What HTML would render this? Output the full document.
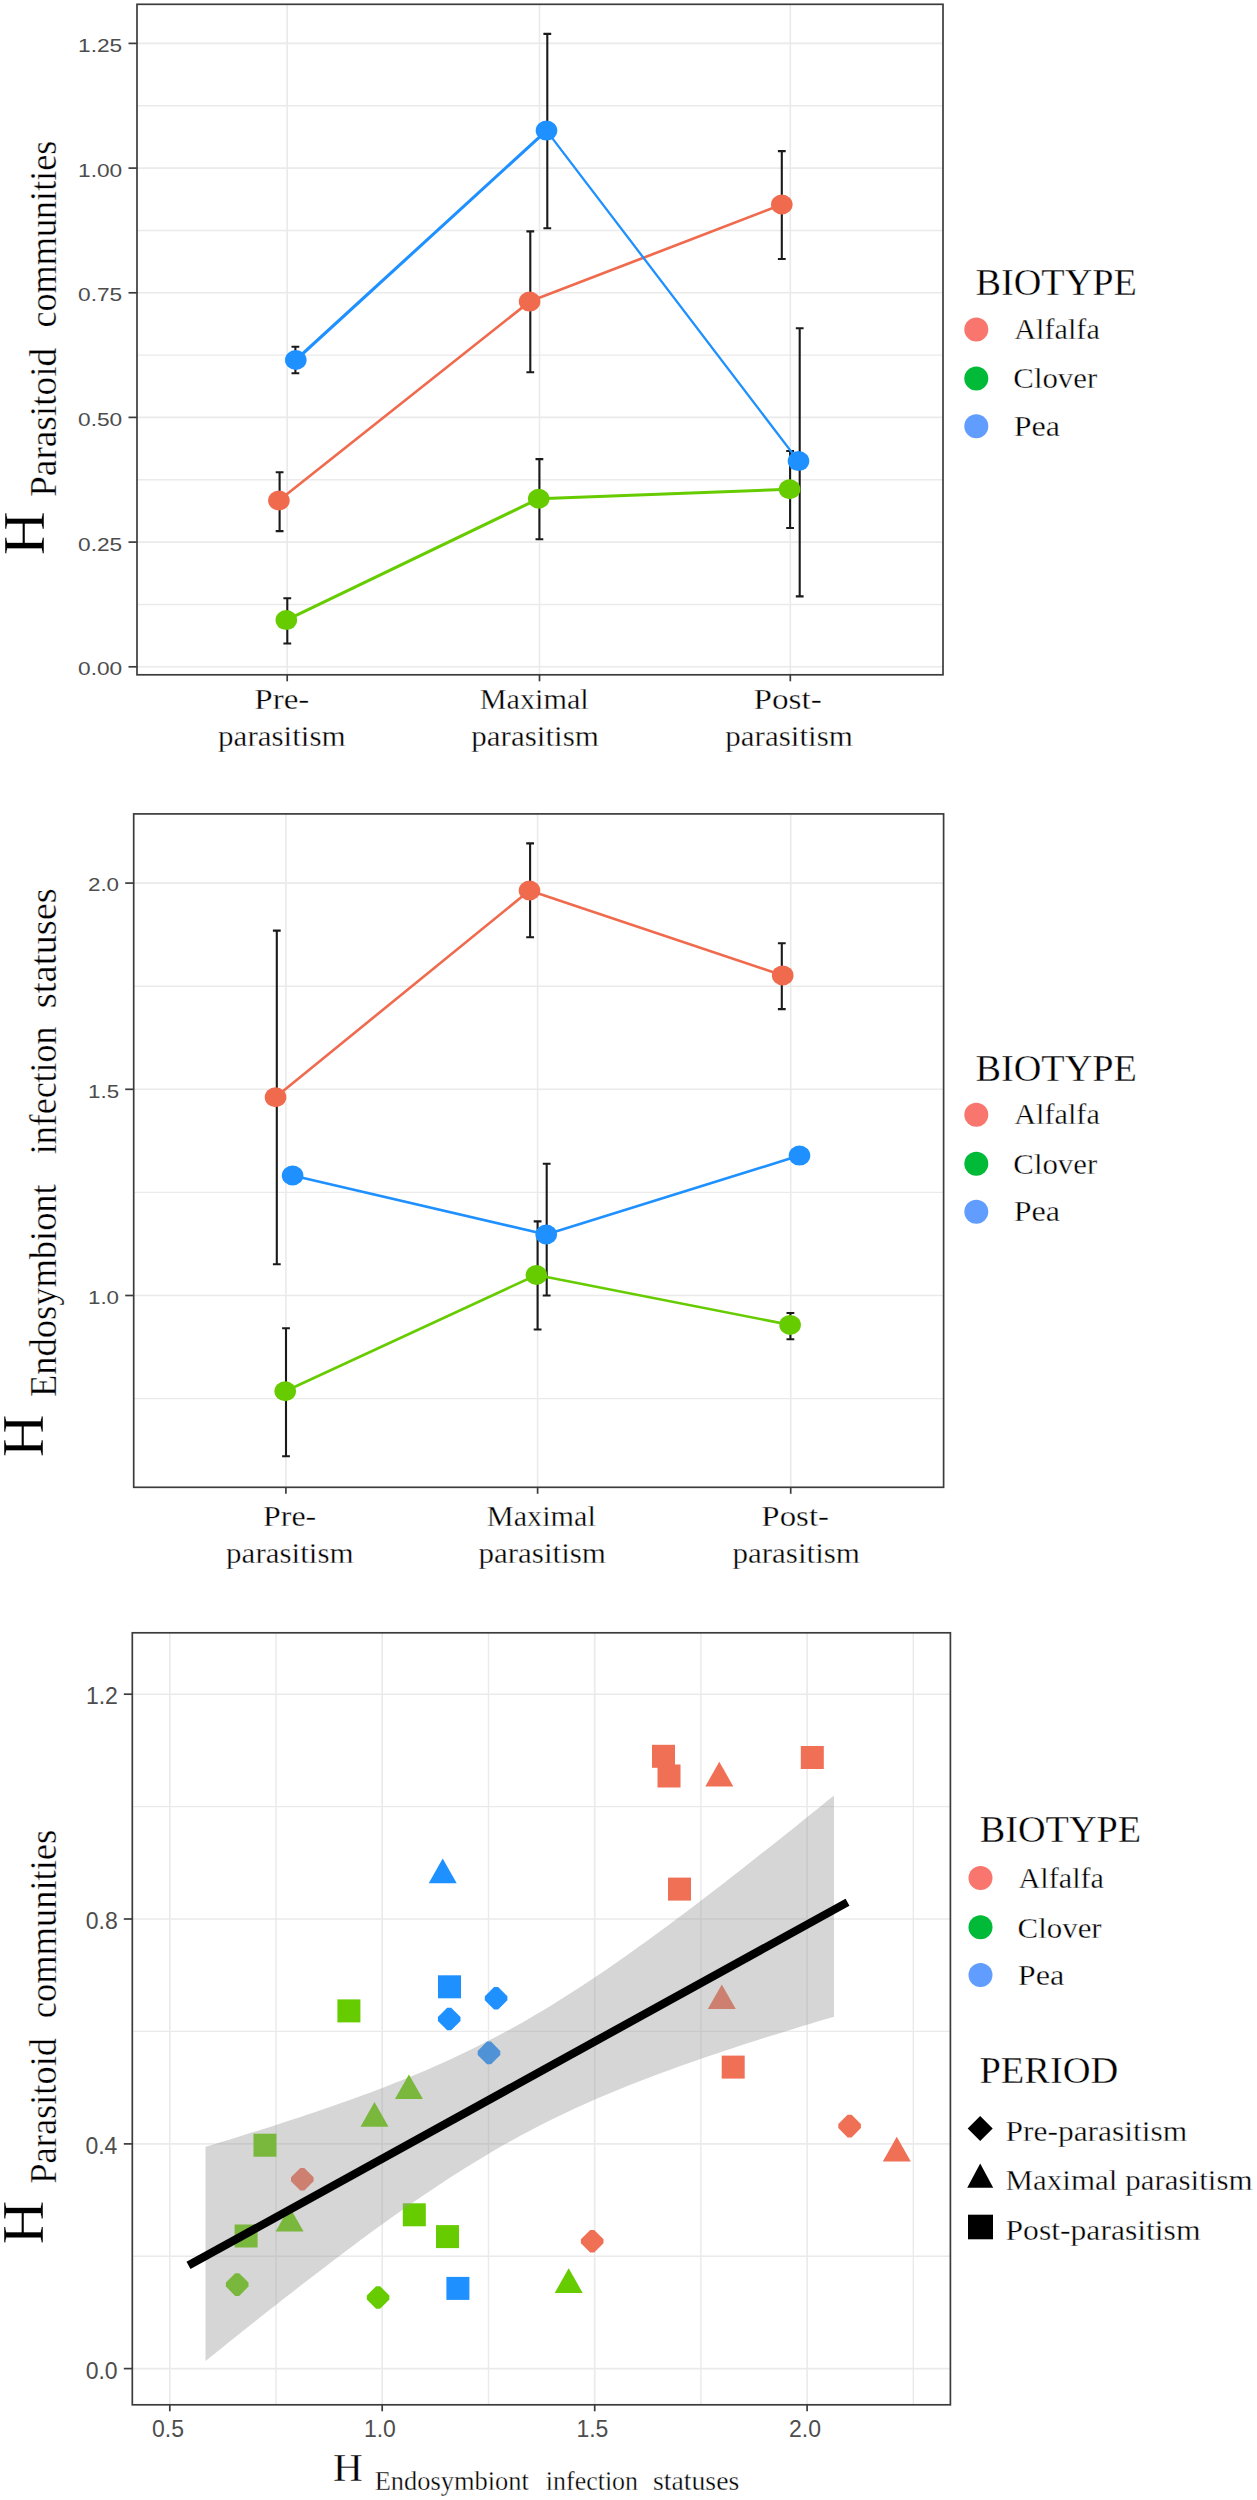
<!DOCTYPE html>
<html><head><meta charset="utf-8"><style>html,body{margin:0;padding:0;background:#fff;}svg{display:block;}text.s{stroke:#fff;stroke-width:0.35px;}</style></head>
<body>
<svg width="1257" height="2500" viewBox="0 0 1257 2500">
<rect width="1257" height="2500" fill="#fff"/>
<line x1="137" y1="105.75" x2="943" y2="105.75" stroke="#EAEAEA" stroke-width="1.4"/>
<line x1="137" y1="230.45" x2="943" y2="230.45" stroke="#EAEAEA" stroke-width="1.4"/>
<line x1="137" y1="355.10" x2="943" y2="355.10" stroke="#EAEAEA" stroke-width="1.4"/>
<line x1="137" y1="479.75" x2="943" y2="479.75" stroke="#EAEAEA" stroke-width="1.4"/>
<line x1="137" y1="604.45" x2="943" y2="604.45" stroke="#EAEAEA" stroke-width="1.4"/>
<line x1="137" y1="43.40" x2="943" y2="43.40" stroke="#EAEAEA" stroke-width="1.6"/>
<line x1="137" y1="168.10" x2="943" y2="168.10" stroke="#EAEAEA" stroke-width="1.6"/>
<line x1="137" y1="292.80" x2="943" y2="292.80" stroke="#EAEAEA" stroke-width="1.6"/>
<line x1="137" y1="417.40" x2="943" y2="417.40" stroke="#EAEAEA" stroke-width="1.6"/>
<line x1="137" y1="542.10" x2="943" y2="542.10" stroke="#EAEAEA" stroke-width="1.6"/>
<line x1="137" y1="666.80" x2="943" y2="666.80" stroke="#EAEAEA" stroke-width="1.6"/>
<line x1="287.20" y1="4.3" x2="287.20" y2="674.8" stroke="#EAEAEA" stroke-width="1.6"/>
<line x1="539.50" y1="4.3" x2="539.50" y2="674.8" stroke="#EAEAEA" stroke-width="1.6"/>
<line x1="790.30" y1="4.3" x2="790.30" y2="674.8" stroke="#EAEAEA" stroke-width="1.6"/>
<path d="M275.70,472.30H283.50M279.60,472.30V531.10M275.70,531.10H283.50" stroke="#1a1a1a" stroke-width="2.1" fill="none"/>
<path d="M526.40,231.40H534.20M530.30,231.40V372.20M526.40,372.20H534.20" stroke="#1a1a1a" stroke-width="2.1" fill="none"/>
<path d="M777.90,151.10H785.70M781.80,151.10V259.00M777.90,259.00H785.70" stroke="#1a1a1a" stroke-width="2.1" fill="none"/>
<path d="M283.40,598.20H291.20M287.30,598.20V643.50M283.40,643.50H291.20" stroke="#1a1a1a" stroke-width="2.1" fill="none"/>
<path d="M535.50,459.10H543.30M539.40,459.10V539.30M535.50,539.30H543.30" stroke="#1a1a1a" stroke-width="2.1" fill="none"/>
<path d="M786.20,451.00H794.00M790.10,451.00V528.00M786.20,528.00H794.00" stroke="#1a1a1a" stroke-width="2.1" fill="none"/>
<path d="M291.50,346.80H299.30M295.40,346.80V373.30M291.50,373.30H299.30" stroke="#1a1a1a" stroke-width="2.1" fill="none"/>
<path d="M543.40,33.90H551.20M547.30,33.90V228.30M543.40,228.30H551.20" stroke="#1a1a1a" stroke-width="2.1" fill="none"/>
<path d="M795.80,328.20H803.60M799.70,328.20V596.40M795.80,596.40H803.60" stroke="#1a1a1a" stroke-width="2.1" fill="none"/>
<line x1="278.90" y1="500.50" x2="529.60" y2="301.60" stroke="#F06A4E" stroke-width="2.7" stroke-linecap="round"/>
<line x1="529.60" y1="301.60" x2="781.80" y2="204.50" stroke="#F06A4E" stroke-width="2.7" stroke-linecap="round"/>
<line x1="286.30" y1="620.10" x2="538.70" y2="498.70" stroke="#66CC00" stroke-width="3.0" stroke-linecap="round"/>
<line x1="538.70" y1="498.70" x2="789.60" y2="489.20" stroke="#66CC00" stroke-width="3.0" stroke-linecap="round"/>
<line x1="295.80" y1="360.00" x2="546.50" y2="130.60" stroke="#1E90FF" stroke-width="3.1" stroke-linecap="round"/>
<line x1="546.50" y1="130.60" x2="798.50" y2="461.10" stroke="#1E90FF" stroke-width="2.3" stroke-linecap="round"/>
<ellipse cx="278.90" cy="500.50" rx="10.8" ry="10.0" fill="#F06A4E"/>
<ellipse cx="529.60" cy="301.60" rx="10.8" ry="10.0" fill="#F06A4E"/>
<ellipse cx="781.80" cy="204.50" rx="10.8" ry="10.0" fill="#F06A4E"/>
<ellipse cx="286.30" cy="620.10" rx="10.8" ry="10.0" fill="#66CC00"/>
<ellipse cx="538.70" cy="498.70" rx="10.8" ry="10.0" fill="#66CC00"/>
<ellipse cx="789.60" cy="489.20" rx="10.8" ry="10.0" fill="#66CC00"/>
<ellipse cx="295.80" cy="360.00" rx="10.8" ry="10.0" fill="#1E90FF"/>
<ellipse cx="546.50" cy="130.60" rx="10.8" ry="10.0" fill="#1E90FF"/>
<ellipse cx="798.50" cy="461.10" rx="10.8" ry="10.0" fill="#1E90FF"/>
<rect x="137" y="4.3" width="806" height="670.5" fill="none" stroke="#3C3C3C" stroke-width="1.7"/>
<line x1="128.5" y1="43.40" x2="137" y2="43.40" stroke="#3C3C3C" stroke-width="1.7"/>
<line x1="128.5" y1="168.10" x2="137" y2="168.10" stroke="#3C3C3C" stroke-width="1.7"/>
<line x1="128.5" y1="292.80" x2="137" y2="292.80" stroke="#3C3C3C" stroke-width="1.7"/>
<line x1="128.5" y1="417.40" x2="137" y2="417.40" stroke="#3C3C3C" stroke-width="1.7"/>
<line x1="128.5" y1="542.10" x2="137" y2="542.10" stroke="#3C3C3C" stroke-width="1.7"/>
<line x1="128.5" y1="666.80" x2="137" y2="666.80" stroke="#3C3C3C" stroke-width="1.7"/>
<line x1="287.20" y1="674.8" x2="287.20" y2="681.3" stroke="#3C3C3C" stroke-width="1.7"/>
<line x1="539.50" y1="674.8" x2="539.50" y2="681.3" stroke="#3C3C3C" stroke-width="1.7"/>
<line x1="790.30" y1="674.8" x2="790.30" y2="681.3" stroke="#3C3C3C" stroke-width="1.7"/>
<text transform="translate(78.08,51.90) scale(1.1821,1)" font-family='"Liberation Sans", sans-serif' font-size="19.20" fill="#4D4D4D">1.25</text>
<text transform="translate(78.01,176.60) scale(1.1821,1)" font-family='"Liberation Sans", sans-serif' font-size="19.20" fill="#4D4D4D">1.00</text>
<text transform="translate(78.08,301.30) scale(1.1821,1)" font-family='"Liberation Sans", sans-serif' font-size="19.20" fill="#4D4D4D">0.75</text>
<text transform="translate(78.01,425.90) scale(1.1821,1)" font-family='"Liberation Sans", sans-serif' font-size="19.20" fill="#4D4D4D">0.50</text>
<text transform="translate(78.08,550.60) scale(1.1821,1)" font-family='"Liberation Sans", sans-serif' font-size="19.20" fill="#4D4D4D">0.25</text>
<text transform="translate(78.01,675.30) scale(1.1821,1)" font-family='"Liberation Sans", sans-serif' font-size="19.20" fill="#4D4D4D">0.00</text>
<text class="s" transform="translate(254.25,709.40) scale(1.1034,1)" font-family='"Liberation Serif", serif' font-size="30.00" fill="#000">Pre-</text>
<text class="s" transform="translate(218.10,745.60) scale(1.0355,1)" font-family='"Liberation Serif", serif' font-size="30.00" fill="#000">parasitism</text>
<text class="s" transform="translate(479.63,709.40) scale(1.0080,1)" font-family='"Liberation Serif", serif' font-size="30.00" fill="#000">Maximal</text>
<text class="s" transform="translate(471.30,745.60) scale(1.0355,1)" font-family='"Liberation Serif", serif' font-size="30.00" fill="#000">parasitism</text>
<text class="s" transform="translate(753.44,709.40) scale(1.1082,1)" font-family='"Liberation Serif", serif' font-size="30.00" fill="#000">Post-</text>
<text class="s" transform="translate(725.30,745.60) scale(1.0347,1)" font-family='"Liberation Serif", serif' font-size="30.00" fill="#000">parasitism</text>
<text class="s" transform="translate(44.30,555.15) rotate(-90) scale(1.0311,1)" font-family='"Liberation Serif", serif' font-size="59.00" fill="#000">H</text>
<text class="s" transform="translate(56.30,496.87) rotate(-90) scale(1.0071,1)" font-family='"Liberation Serif", serif' font-size="37.00" fill="#000">Parasitoid</text>
<text class="s" transform="translate(56.30,327.58) rotate(-90) scale(0.9788,1)" font-family='"Liberation Serif", serif' font-size="37.00" fill="#000">communities</text>
<text class="s" transform="translate(975.50,295.30) scale(1.0201,1)" font-family='"Liberation Serif", serif' font-size="37.50" fill="#000">BIOTYPE</text>
<circle cx="976.3" cy="329.6" r="12" fill="#F8766D"/>
<circle cx="976.3" cy="378.6" r="12" fill="#00BA38"/>
<circle cx="976.3" cy="426.3" r="12" fill="#619CFF"/>
<text class="s" transform="translate(1014.31,339.10) scale(1.0237,1)" font-family='"Liberation Serif", serif' font-size="29.50" fill="#000">Alfalfa</text>
<text class="s" transform="translate(1013.34,388.40) scale(1.0454,1)" font-family='"Liberation Serif", serif' font-size="29.50" fill="#000">Clover</text>
<text class="s" transform="translate(1013.67,436.20) scale(1.0885,1)" font-family='"Liberation Serif", serif' font-size="29.50" fill="#000">Pea</text>
<line x1="133.7" y1="986.20" x2="943.6" y2="986.20" stroke="#EAEAEA" stroke-width="1.4"/>
<line x1="133.7" y1="1192.40" x2="943.6" y2="1192.40" stroke="#EAEAEA" stroke-width="1.4"/>
<line x1="133.7" y1="1398.60" x2="943.6" y2="1398.60" stroke="#EAEAEA" stroke-width="1.4"/>
<line x1="133.7" y1="883.10" x2="943.6" y2="883.10" stroke="#EAEAEA" stroke-width="1.6"/>
<line x1="133.7" y1="1089.30" x2="943.6" y2="1089.30" stroke="#EAEAEA" stroke-width="1.6"/>
<line x1="133.7" y1="1295.50" x2="943.6" y2="1295.50" stroke="#EAEAEA" stroke-width="1.6"/>
<line x1="285.90" y1="813.9" x2="285.90" y2="1487.3" stroke="#EAEAEA" stroke-width="1.6"/>
<line x1="537.60" y1="813.9" x2="537.60" y2="1487.3" stroke="#EAEAEA" stroke-width="1.6"/>
<line x1="790.70" y1="813.9" x2="790.70" y2="1487.3" stroke="#EAEAEA" stroke-width="1.6"/>
<path d="M272.90,930.60H280.70M276.80,930.60V1264.30M272.90,1264.30H280.70" stroke="#1a1a1a" stroke-width="2.1" fill="none"/>
<path d="M526.20,843.40H534.00M530.10,843.40V937.30M526.20,937.30H534.00" stroke="#1a1a1a" stroke-width="2.1" fill="none"/>
<path d="M777.90,943.20H785.70M781.80,943.20V1009.10M777.90,1009.10H785.70" stroke="#1a1a1a" stroke-width="2.1" fill="none"/>
<path d="M542.80,1163.70H550.60M546.70,1163.70V1295.50M542.80,1295.50H550.60" stroke="#1a1a1a" stroke-width="2.1" fill="none"/>
<path d="M282.10,1328.30H289.90M286.00,1328.30V1456.20M282.10,1456.20H289.90" stroke="#1a1a1a" stroke-width="2.1" fill="none"/>
<path d="M533.70,1221.40H541.50M537.60,1221.40V1329.50M533.70,1329.50H541.50" stroke="#1a1a1a" stroke-width="2.1" fill="none"/>
<path d="M786.50,1313.00H794.30M790.40,1313.00V1339.20M786.50,1339.20H794.30" stroke="#1a1a1a" stroke-width="2.1" fill="none"/>
<line x1="275.50" y1="1097.20" x2="529.50" y2="890.50" stroke="#F06A4E" stroke-width="2.6" stroke-linecap="round"/>
<line x1="529.50" y1="890.50" x2="782.70" y2="975.40" stroke="#F06A4E" stroke-width="2.6" stroke-linecap="round"/>
<line x1="285.20" y1="1391.30" x2="536.40" y2="1275.00" stroke="#66CC00" stroke-width="2.6" stroke-linecap="round"/>
<line x1="536.40" y1="1275.00" x2="790.10" y2="1324.90" stroke="#66CC00" stroke-width="2.6" stroke-linecap="round"/>
<line x1="292.60" y1="1175.50" x2="546.20" y2="1234.50" stroke="#1E90FF" stroke-width="2.6" stroke-linecap="round"/>
<line x1="546.20" y1="1234.50" x2="799.50" y2="1155.60" stroke="#1E90FF" stroke-width="2.6" stroke-linecap="round"/>
<ellipse cx="275.50" cy="1097.20" rx="10.8" ry="10.0" fill="#F06A4E"/>
<ellipse cx="529.50" cy="890.50" rx="10.8" ry="10.0" fill="#F06A4E"/>
<ellipse cx="782.70" cy="975.40" rx="10.8" ry="10.0" fill="#F06A4E"/>
<ellipse cx="285.20" cy="1391.30" rx="10.8" ry="10.0" fill="#66CC00"/>
<ellipse cx="536.40" cy="1275.00" rx="10.8" ry="10.0" fill="#66CC00"/>
<ellipse cx="790.10" cy="1324.90" rx="10.8" ry="10.0" fill="#66CC00"/>
<ellipse cx="292.60" cy="1175.50" rx="10.8" ry="10.0" fill="#1E90FF"/>
<ellipse cx="546.20" cy="1234.50" rx="10.8" ry="10.0" fill="#1E90FF"/>
<ellipse cx="799.50" cy="1155.60" rx="10.8" ry="10.0" fill="#1E90FF"/>
<rect x="133.7" y="813.9" width="809.9000000000001" height="673.4" fill="none" stroke="#3C3C3C" stroke-width="1.7"/>
<line x1="125.19999999999999" y1="883.10" x2="133.7" y2="883.10" stroke="#3C3C3C" stroke-width="1.7"/>
<line x1="125.19999999999999" y1="1089.30" x2="133.7" y2="1089.30" stroke="#3C3C3C" stroke-width="1.7"/>
<line x1="125.19999999999999" y1="1295.50" x2="133.7" y2="1295.50" stroke="#3C3C3C" stroke-width="1.7"/>
<line x1="285.90" y1="1487.3" x2="285.90" y2="1493.8" stroke="#3C3C3C" stroke-width="1.7"/>
<line x1="537.60" y1="1487.3" x2="537.60" y2="1493.8" stroke="#3C3C3C" stroke-width="1.7"/>
<line x1="790.70" y1="1487.3" x2="790.70" y2="1493.8" stroke="#3C3C3C" stroke-width="1.7"/>
<text transform="translate(87.97,891.40) scale(1.1652,1)" font-family='"Liberation Sans", sans-serif' font-size="19.20" fill="#4D4D4D">2.0</text>
<text transform="translate(88.04,1097.60) scale(1.1652,1)" font-family='"Liberation Sans", sans-serif' font-size="19.20" fill="#4D4D4D">1.5</text>
<text transform="translate(87.97,1303.80) scale(1.1652,1)" font-family='"Liberation Sans", sans-serif' font-size="19.20" fill="#4D4D4D">1.0</text>
<text class="s" transform="translate(262.98,1526.10) scale(1.0660,1)" font-family='"Liberation Serif", serif' font-size="30.00" fill="#000">Pre-</text>
<text class="s" transform="translate(226.10,1562.70) scale(1.0347,1)" font-family='"Liberation Serif", serif' font-size="30.00" fill="#000">parasitism</text>
<text class="s" transform="translate(486.83,1526.10) scale(1.0071,1)" font-family='"Liberation Serif", serif' font-size="30.00" fill="#000">Maximal</text>
<text class="s" transform="translate(478.40,1562.70) scale(1.0355,1)" font-family='"Liberation Serif", serif' font-size="30.00" fill="#000">parasitism</text>
<text class="s" transform="translate(761.35,1526.10) scale(1.0965,1)" font-family='"Liberation Serif", serif' font-size="30.00" fill="#000">Post-</text>
<text class="s" transform="translate(732.40,1562.70) scale(1.0355,1)" font-family='"Liberation Serif", serif' font-size="30.00" fill="#000">parasitism</text>
<text class="s" transform="translate(43.40,1457.21) rotate(-90) scale(1.0056,1)" font-family='"Liberation Serif", serif' font-size="59.00" fill="#000">H</text>
<text class="s" transform="translate(55.70,1396.95) rotate(-90) scale(0.9858,1)" font-family='"Liberation Serif", serif' font-size="37.00" fill="#000">Endosymbiont</text>
<text class="s" transform="translate(55.70,1154.15) rotate(-90) scale(0.9710,1)" font-family='"Liberation Serif", serif' font-size="37.00" fill="#000">infection</text>
<text class="s" transform="translate(55.70,1008.18) rotate(-90) scale(1.0432,1)" font-family='"Liberation Serif", serif' font-size="37.00" fill="#000">statuses</text>
<text class="s" transform="translate(975.50,1080.60) scale(1.0201,1)" font-family='"Liberation Serif", serif' font-size="37.50" fill="#000">BIOTYPE</text>
<circle cx="976.3" cy="1114.8" r="12" fill="#F8766D"/>
<circle cx="976.3" cy="1163.8" r="12" fill="#00BA38"/>
<circle cx="976.3" cy="1211.8" r="12" fill="#619CFF"/>
<text class="s" transform="translate(1014.31,1124.30) scale(1.0237,1)" font-family='"Liberation Serif", serif' font-size="29.50" fill="#000">Alfalfa</text>
<text class="s" transform="translate(1013.34,1174.40) scale(1.0454,1)" font-family='"Liberation Serif", serif' font-size="29.50" fill="#000">Clover</text>
<text class="s" transform="translate(1013.67,1221.40) scale(1.0885,1)" font-family='"Liberation Serif", serif' font-size="29.50" fill="#000">Pea</text>
<line x1="132.3" y1="1806.60" x2="950.4" y2="1806.60" stroke="#EAEAEA" stroke-width="1.4"/>
<line x1="132.3" y1="2031.40" x2="950.4" y2="2031.40" stroke="#EAEAEA" stroke-width="1.4"/>
<line x1="132.3" y1="2256.20" x2="950.4" y2="2256.20" stroke="#EAEAEA" stroke-width="1.4"/>
<line x1="276.00" y1="1632.8" x2="276.00" y2="2404.8" stroke="#EAEAEA" stroke-width="1.4"/>
<line x1="488.50" y1="1632.8" x2="488.50" y2="2404.8" stroke="#EAEAEA" stroke-width="1.4"/>
<line x1="700.90" y1="1632.8" x2="700.90" y2="2404.8" stroke="#EAEAEA" stroke-width="1.4"/>
<line x1="913.30" y1="1632.8" x2="913.30" y2="2404.8" stroke="#EAEAEA" stroke-width="1.4"/>
<line x1="132.3" y1="1694.20" x2="950.4" y2="1694.20" stroke="#EAEAEA" stroke-width="1.6"/>
<line x1="132.3" y1="1919.00" x2="950.4" y2="1919.00" stroke="#EAEAEA" stroke-width="1.6"/>
<line x1="132.3" y1="2143.90" x2="950.4" y2="2143.90" stroke="#EAEAEA" stroke-width="1.6"/>
<line x1="132.3" y1="2368.60" x2="950.4" y2="2368.60" stroke="#EAEAEA" stroke-width="1.6"/>
<line x1="169.80" y1="1632.8" x2="169.80" y2="2404.8" stroke="#EAEAEA" stroke-width="1.6"/>
<line x1="382.20" y1="1632.8" x2="382.20" y2="2404.8" stroke="#EAEAEA" stroke-width="1.6"/>
<line x1="594.70" y1="1632.8" x2="594.70" y2="2404.8" stroke="#EAEAEA" stroke-width="1.6"/>
<line x1="807.10" y1="1632.8" x2="807.10" y2="2404.8" stroke="#EAEAEA" stroke-width="1.6"/>
<path d="M235.20,2273.30L239.20,2273.30L248.50,2282.60L248.50,2286.60L239.20,2295.90L235.20,2295.90L225.90,2286.60L225.90,2282.60Z" fill="#66CC00"/>
<path d="M376.10,2286.20L380.10,2286.20L389.40,2295.50L389.40,2299.50L380.10,2308.80L376.10,2308.80L366.80,2299.50L366.80,2295.50Z" fill="#66CC00"/>
<rect x="234.60" y="2224.50" width="23.0" height="23.0" fill="#66CC00"/>
<rect x="253.50" y="2133.70" width="23.0" height="23.0" fill="#66CC00"/>
<rect x="337.40" y="1999.40" width="23.0" height="23.0" fill="#66CC00"/>
<rect x="402.80" y="2203.30" width="23.0" height="23.0" fill="#66CC00"/>
<rect x="436.00" y="2225.10" width="23.0" height="23.0" fill="#66CC00"/>
<path d="M289.60,2207.00L303.60,2231.60L275.60,2231.60Z" fill="#66CC00"/>
<path d="M374.50,2102.10L388.50,2126.70L360.50,2126.70Z" fill="#66CC00"/>
<path d="M408.90,2074.50L422.90,2099.10L394.90,2099.10Z" fill="#66CC00"/>
<path d="M568.70,2268.30L582.70,2292.90L554.70,2292.90Z" fill="#66CC00"/>
<rect x="446.40" y="2276.90" width="23.0" height="23.0" fill="#1E90FF"/>
<rect x="438.00" y="1975.30" width="23.0" height="23.0" fill="#1E90FF"/>
<path d="M442.70,1858.60L456.70,1883.20L428.70,1883.20Z" fill="#1E90FF"/>
<path d="M447.20,2007.70L451.20,2007.70L460.50,2017.00L460.50,2021.00L451.20,2030.30L447.20,2030.30L437.90,2021.00L437.90,2017.00Z" fill="#1E90FF"/>
<path d="M494.10,1987.00L498.10,1987.00L507.40,1996.30L507.40,2000.30L498.10,2009.60L494.10,2009.60L484.80,2000.30L484.80,1996.30Z" fill="#1E90FF"/>
<path d="M487.00,2041.60L491.00,2041.60L500.30,2050.90L500.30,2054.90L491.00,2064.20L487.00,2064.20L477.70,2054.90L477.70,2050.90Z" fill="#1E90FF"/>
<path d="M300.30,2168.00L304.30,2168.00L313.60,2177.30L313.60,2181.30L304.30,2190.60L300.30,2190.60L291.00,2181.30L291.00,2177.30Z" fill="#F07056"/>
<path d="M590.20,2229.90L594.20,2229.90L603.50,2239.20L603.50,2243.20L594.20,2252.50L590.20,2252.50L580.90,2243.20L580.90,2239.20Z" fill="#F07056"/>
<path d="M847.60,2114.80L851.60,2114.80L860.90,2124.10L860.90,2128.10L851.60,2137.40L847.60,2137.40L838.30,2128.10L838.30,2124.10Z" fill="#F07056"/>
<rect x="652.00" y="1744.80" width="23.0" height="23.0" fill="#F07056"/>
<rect x="657.50" y="1764.50" width="23.0" height="23.0" fill="#F07056"/>
<rect x="800.80" y="1746.00" width="23.0" height="23.0" fill="#F07056"/>
<rect x="668.00" y="1877.60" width="23.0" height="23.0" fill="#F07056"/>
<rect x="721.70" y="2055.60" width="23.0" height="23.0" fill="#F07056"/>
<path d="M719.30,1761.80L733.30,1786.40L705.30,1786.40Z" fill="#F07056"/>
<path d="M721.80,1984.40L735.80,2009.00L707.80,2009.00Z" fill="#F07056"/>
<path d="M896.80,2136.80L910.80,2161.40L882.80,2161.40Z" fill="#F07056"/>
<path d="M205.50,2146.82 L213.36,2144.45 L221.21,2142.07 L229.07,2139.67 L236.93,2137.26 L244.78,2134.82 L252.64,2132.37 L260.49,2129.90 L268.35,2127.41 L276.21,2124.90 L284.06,2122.36 L291.92,2119.80 L299.77,2117.21 L307.63,2114.60 L315.49,2111.95 L323.34,2109.27 L331.20,2106.56 L339.06,2103.81 L346.91,2101.02 L354.77,2098.19 L362.62,2095.32 L370.48,2092.40 L378.34,2089.43 L386.19,2086.41 L394.05,2083.33 L401.91,2080.20 L409.76,2077.00 L417.62,2073.74 L425.48,2070.40 L433.33,2067.00 L441.19,2063.52 L449.04,2059.96 L456.90,2056.32 L464.76,2052.59 L472.61,2048.77 L480.47,2044.87 L488.32,2040.87 L496.18,2036.77 L504.04,2032.58 L511.89,2028.30 L519.75,2023.91 L527.61,2019.43 L535.46,2014.85 L543.32,2010.18 L551.17,2005.42 L559.03,2000.56 L566.89,1995.62 L574.74,1990.59 L582.60,1985.47 L590.46,1980.28 L598.31,1975.00 L606.17,1969.66 L614.02,1964.24 L621.88,1958.76 L629.74,1953.22 L637.59,1947.61 L645.45,1941.95 L653.31,1936.24 L661.16,1930.48 L669.02,1924.66 L676.88,1918.81 L684.73,1912.91 L692.59,1906.97 L700.44,1901.00 L708.30,1894.99 L716.16,1888.95 L724.01,1882.88 L731.87,1876.78 L739.73,1870.65 L747.58,1864.50 L755.44,1858.32 L763.29,1852.12 L771.15,1845.90 L779.01,1839.66 L786.86,1833.40 L794.72,1827.13 L802.58,1820.83 L810.43,1814.52 L818.29,1808.20 L826.14,1801.86 L834.00,1795.51 L834.00,2016.67 L826.14,2019.01 L818.29,2021.37 L810.43,2023.74 L802.58,2026.12 L794.72,2028.53 L786.86,2030.95 L779.01,2033.38 L771.15,2035.84 L763.29,2038.31 L755.44,2040.81 L747.58,2043.33 L739.73,2045.87 L731.87,2048.44 L724.01,2051.04 L716.16,2053.66 L708.30,2056.32 L700.44,2059.01 L692.59,2061.73 L684.73,2064.49 L676.88,2067.29 L669.02,2070.13 L661.16,2073.01 L653.31,2075.94 L645.45,2078.92 L637.59,2081.96 L629.74,2085.05 L621.88,2088.20 L614.02,2091.42 L606.17,2094.70 L598.31,2098.05 L590.46,2101.47 L582.60,2104.98 L574.74,2108.56 L566.89,2112.22 L559.03,2115.97 L551.17,2119.81 L543.32,2123.74 L535.46,2127.77 L527.61,2131.89 L519.75,2136.10 L511.89,2140.41 L504.04,2144.82 L496.18,2149.33 L488.32,2153.93 L480.47,2158.63 L472.61,2163.42 L464.76,2168.30 L456.90,2173.27 L449.04,2178.32 L441.19,2183.46 L433.33,2188.67 L425.48,2193.96 L417.62,2199.33 L409.76,2204.76 L401.91,2210.26 L394.05,2215.82 L386.19,2221.44 L378.34,2227.11 L370.48,2232.84 L362.62,2238.62 L354.77,2244.44 L346.91,2250.31 L339.06,2256.21 L331.20,2262.16 L323.34,2268.14 L315.49,2274.16 L307.63,2280.21 L299.77,2286.29 L291.92,2292.40 L284.06,2298.53 L276.21,2304.69 L268.35,2310.87 L260.49,2317.08 L252.64,2323.30 L244.78,2329.55 L236.93,2335.81 L229.07,2342.10 L221.21,2348.39 L213.36,2354.71 L205.50,2361.03Z" fill="#999999" fill-opacity="0.4"/>
<line x1="188.5" y1="2265.42" x2="847.5" y2="1902.24" stroke="#000" stroke-width="8.2"/>
<rect x="132.3" y="1632.8" width="818.0999999999999" height="772.0000000000002" fill="none" stroke="#3C3C3C" stroke-width="1.7"/>
<line x1="123.80000000000001" y1="1694.20" x2="132.3" y2="1694.20" stroke="#3C3C3C" stroke-width="1.7"/>
<line x1="123.80000000000001" y1="1919.00" x2="132.3" y2="1919.00" stroke="#3C3C3C" stroke-width="1.7"/>
<line x1="123.80000000000001" y1="2143.90" x2="132.3" y2="2143.90" stroke="#3C3C3C" stroke-width="1.7"/>
<line x1="123.80000000000001" y1="2368.60" x2="132.3" y2="2368.60" stroke="#3C3C3C" stroke-width="1.7"/>
<line x1="169.80" y1="2404.8" x2="169.80" y2="2411.3" stroke="#3C3C3C" stroke-width="1.7"/>
<line x1="382.20" y1="2404.8" x2="382.20" y2="2411.3" stroke="#3C3C3C" stroke-width="1.7"/>
<line x1="594.70" y1="2404.8" x2="594.70" y2="2411.3" stroke="#3C3C3C" stroke-width="1.7"/>
<line x1="807.10" y1="2404.8" x2="807.10" y2="2411.3" stroke="#3C3C3C" stroke-width="1.7"/>
<text transform="translate(85.88,1704.20) scale(1.0000,1)" font-family='"Liberation Sans", sans-serif' font-size="23.00" fill="#4D4D4D">1.2</text>
<text transform="translate(85.73,1929.00) scale(1.0000,1)" font-family='"Liberation Sans", sans-serif' font-size="23.00" fill="#4D4D4D">0.8</text>
<text transform="translate(85.40,2153.90) scale(1.0000,1)" font-family='"Liberation Sans", sans-serif' font-size="23.00" fill="#4D4D4D">0.4</text>
<text transform="translate(85.63,2378.60) scale(1.0000,1)" font-family='"Liberation Sans", sans-serif' font-size="23.00" fill="#4D4D4D">0.0</text>
<text transform="translate(151.95,2436.70) scale(1.0000,1)" font-family='"Liberation Sans", sans-serif' font-size="23.00" fill="#4D4D4D">0.5</text>
<text transform="translate(363.89,2436.70) scale(1.0000,1)" font-family='"Liberation Sans", sans-serif' font-size="23.00" fill="#4D4D4D">1.0</text>
<text transform="translate(576.42,2436.70) scale(1.0000,1)" font-family='"Liberation Sans", sans-serif' font-size="23.00" fill="#4D4D4D">1.5</text>
<text transform="translate(789.08,2436.70) scale(1.0000,1)" font-family='"Liberation Sans", sans-serif' font-size="23.00" fill="#4D4D4D">2.0</text>
<text class="s" transform="translate(43.40,2244.44) rotate(-90) scale(1.0260,1)" font-family='"Liberation Serif", serif' font-size="59.00" fill="#000">H</text>
<text class="s" transform="translate(55.70,2183.65) rotate(-90) scale(0.9845,1)" font-family='"Liberation Serif", serif' font-size="37.00" fill="#000">Parasitoid</text>
<text class="s" transform="translate(55.70,2018.19) rotate(-90) scale(0.9862,1)" font-family='"Liberation Serif", serif' font-size="37.00" fill="#000">communities</text>
<text class="s" transform="translate(333.11,2481.10) scale(1.0064,1)" font-family='"Liberation Serif", serif' font-size="41.00" fill="#000">H</text>
<text class="s" transform="translate(374.64,2489.90) scale(0.9619,1)" font-family='"Liberation Serif", serif' font-size="27.50" fill="#000">Endosymbiont</text>
<text class="s" transform="translate(545.86,2489.90) scale(0.9437,1)" font-family='"Liberation Serif", serif' font-size="27.50" fill="#000">infection</text>
<text class="s" transform="translate(652.96,2489.90) scale(1.0093,1)" font-family='"Liberation Serif", serif' font-size="27.50" fill="#000">statuses</text>
<text class="s" transform="translate(979.70,1842.20) scale(1.0201,1)" font-family='"Liberation Serif", serif' font-size="37.50" fill="#000">BIOTYPE</text>
<circle cx="980.5" cy="1878.0" r="12" fill="#F8766D"/>
<circle cx="980.5" cy="1927.3" r="12" fill="#00BA38"/>
<circle cx="980.5" cy="1975.0" r="12" fill="#619CFF"/>
<text class="s" transform="translate(1018.51,1887.50) scale(1.0237,1)" font-family='"Liberation Serif", serif' font-size="29.50" fill="#000">Alfalfa</text>
<text class="s" transform="translate(1017.53,1937.60) scale(1.0480,1)" font-family='"Liberation Serif", serif' font-size="29.50" fill="#000">Clover</text>
<text class="s" transform="translate(1017.87,1985.40) scale(1.0934,1)" font-family='"Liberation Serif", serif' font-size="29.50" fill="#000">Pea</text>
<text class="s" transform="translate(979.39,2083.30) scale(1.0268,1)" font-family='"Liberation Serif", serif' font-size="37.50" fill="#000">PERIOD</text>
<path d="M980.2,2116.0L992.7,2128.5L980.2,2141.0L967.7,2128.5Z" fill="#000"/>
<path d="M980.2,2163.6L993.2,2187.8L967.2,2187.8Z" fill="#000"/>
<rect x="968.0" y="2214.7" width="25" height="24.6" fill="#000"/>
<text class="s" transform="translate(1005.49,2140.70) scale(1.0669,1)" font-family='"Liberation Serif", serif' font-size="29.50" fill="#000">Pre-parasitism</text>
<text class="s" transform="translate(1005.51,2189.70) scale(1.0512,1)" font-family='"Liberation Serif", serif' font-size="29.50" fill="#000">Maximal parasitism</text>
<text class="s" transform="translate(1005.49,2239.80) scale(1.0725,1)" font-family='"Liberation Serif", serif' font-size="29.50" fill="#000">Post-parasitism</text>
</svg>
</body></html>
